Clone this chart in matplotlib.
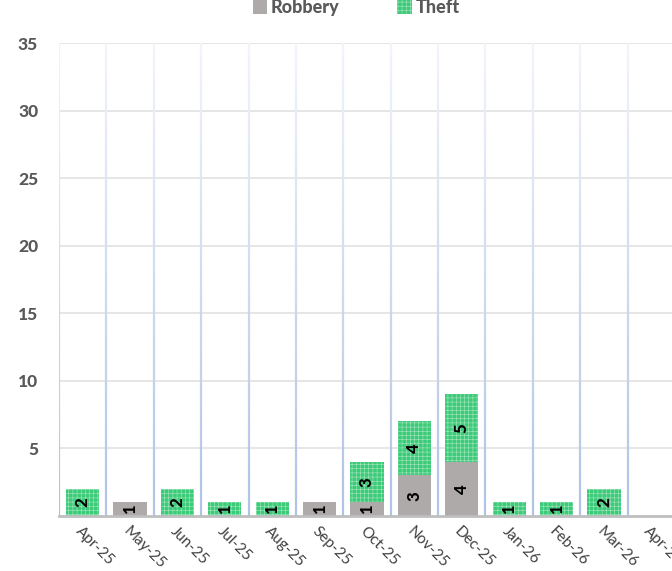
import matplotlib
matplotlib.use("Agg")
import matplotlib.pyplot as plt
import numpy as np
from matplotlib.collections import LineCollection
from matplotlib.colors import to_rgb

months = ["Apr-25", "May-25", "Jun-25", "Jul-25", "Aug-25", "Sep-25", "Oct-25",
          "Nov-25", "Dec-25", "Jan-26", "Feb-26", "Mar-26", "Apr-26"]
robbery = [0, 1, 0, 0, 0, 1, 1, 3, 4, 0, 0, 0, 0]
theft = [2, 0, 2, 1, 1, 0, 3, 4, 5, 1, 1, 2, 0]
yticks = [5, 10, 15, 20, 25, 30, 35]

plt.rcParams['font.family'] = ['Lato', 'DejaVu Sans']
plt.rcParams['hatch.linewidth'] = 0.4

fig = plt.figure(figsize=(6.72, 5.71), dpi=100)
ax = fig.add_axes([59/672, 55/571, 616/672, 473/571])
x = np.arange(len(months))

ax.set_xlim(-0.5, len(months) - 0.5)
ax.set_ylim(0, 35)

# horizontal grid
for yv in yticks:
    ax.axhline(yv, color='#E6E6E6', lw=1.4, zorder=0)

# vertical gradient gridlines
top_c = np.array(to_rgb('#F2F4FA'))
bot_c = np.array(to_rgb('#AFC2E5'))
nseg = 60
ys = np.linspace(0, 35, nseg + 1)
segs, cols = [], []
for b in np.arange(-0.5, len(months), 1.0):
    for i in range(nseg):
        segs.append([(b, ys[i]), (b, ys[i + 1])])
        t = (ys[i] + ys[i + 1]) / 2 / 35
        cols.append(bot_c * (1 - t) + top_c * t)
ax.add_collection(LineCollection(segs, colors=cols, linewidths=1.6, zorder=0.5))

w = 0.7
b1 = ax.bar(x, robbery, width=w, color='#AEAAAA', label='Robbery', zorder=2)
b2 = ax.bar(x, theft, width=w, bottom=robbery, color='#3CCB79', edgecolor='#A6E6C0',
            hatch='++++', linewidth=0, label='Theft', zorder=2)

ax.bar_label(b1, labels=[str(v) if v else '' for v in robbery], label_type='center',
             rotation=90, fontsize=12, fontweight='black', color='black')
ax.bar_label(b2, labels=[str(v) if v else '' for v in theft], label_type='center',
             rotation=90, fontsize=12, fontweight='black', color='black')

for s in ['top', 'right', 'left']:
    ax.spines[s].set_visible(False)
ax.spines['bottom'].set_color('#BFBFBF')
ax.spines['bottom'].set_linewidth(2)
ax.spines['bottom'].set_zorder(3)

ax.set_yticks(yticks)
ax.set_yticklabels([str(v) for v in yticks], fontsize=12.5, fontweight='black', color='#595959')
ax.tick_params(axis='y', length=0, pad=15)
ax.set_xticks(x)
ax.set_xticklabels(months, rotation=-45, ha='left', rotation_mode='anchor',
                   fontsize=11, color='#404040')
ax.tick_params(axis='x', length=0, pad=6)

fig.legend(handles=[b1, b2], labels=['Robbery', 'Theft'], loc='upper center',
           bbox_to_anchor=(0.53, 1.03), ncol=2, frameon=False, columnspacing=3.2,
           handlelength=0.8, handleheight=0.8, handletextpad=0.2,
           prop={'weight': 'black', 'size': 13}, labelcolor='#595959')

fig.savefig('out.png', dpi=100)
